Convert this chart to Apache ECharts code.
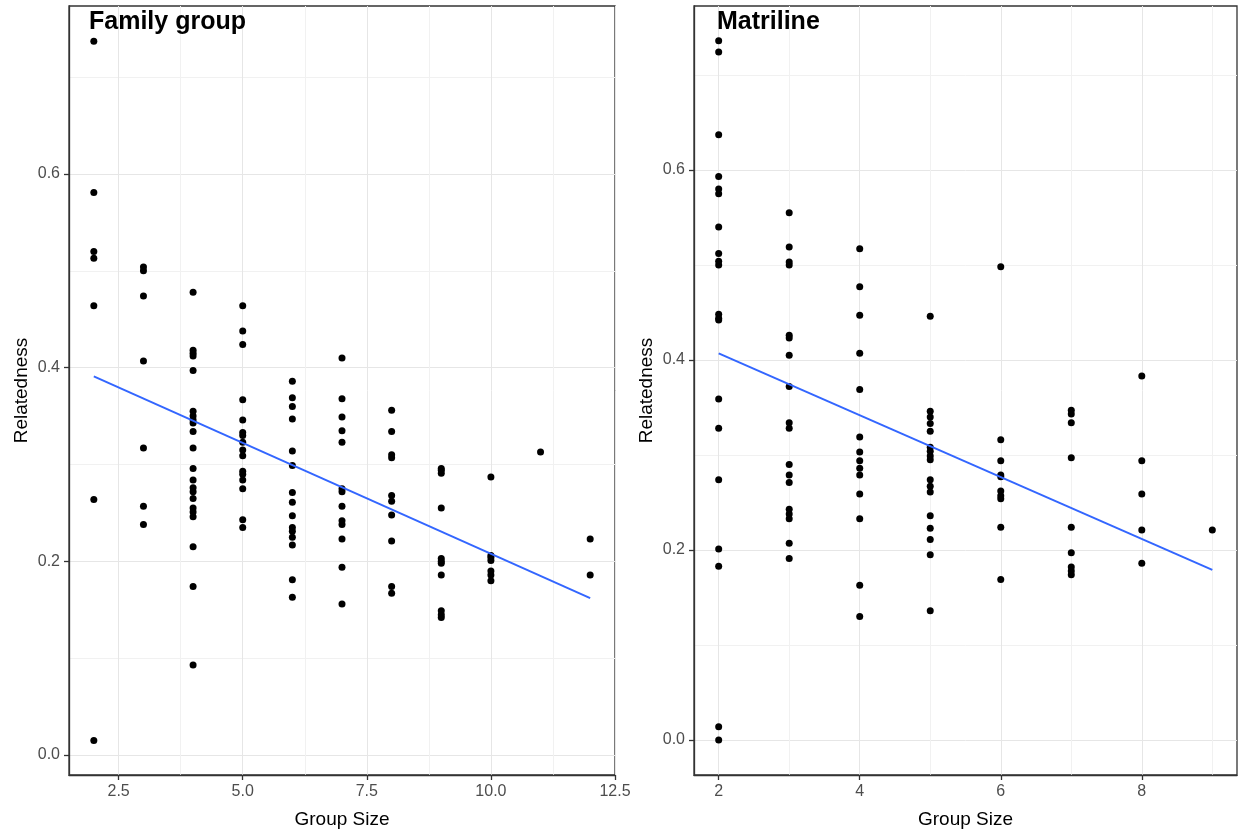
<!DOCTYPE html>
<html>
<head>
<meta charset="utf-8">
<script src="https://cdn.jsdelivr.net/npm/echarts@6/dist/echarts.min.js"></script>
<style>
html,body{margin:0;padding:0;background:#fff;}
#chart{width:1238px;height:834px;}
</style>
</head>
<body>
<div id="chart"></div>
<script>
// ---- Family group panel data (Group Size -> Relatedness values) ----
const famSizes = [2, 3, 4, 5, 6, 7, 8, 9, 10, 11, 12];
const fam2 = [0.737, 0.581, 0.520, 0.513, 0.464, 0.264, 0.015];
const fam3 = [0.504, 0.500, 0.474, 0.407, 0.317, 0.257, 0.238];
const fam4 = [0.478, 0.418, 0.415, 0.412, 0.397, 0.355, 0.350, 0.346, 0.343, 0.334, 0.317, 0.296, 0.284, 0.276, 0.272, 0.265, 0.255, 0.251, 0.246, 0.215, 0.174, 0.093];
const fam5 = [0.464, 0.438, 0.424, 0.367, 0.346, 0.333, 0.330, 0.323, 0.315, 0.309, 0.293, 0.290, 0.284, 0.275, 0.243, 0.235];
const fam6 = [0.386, 0.369, 0.360, 0.347, 0.314, 0.299, 0.271, 0.261, 0.247, 0.235, 0.231, 0.225, 0.217, 0.181, 0.163];
const fam7 = [0.410, 0.368, 0.349, 0.335, 0.323, 0.275, 0.272, 0.257, 0.242, 0.238, 0.223, 0.194, 0.156];
const fam8 = [0.356, 0.334, 0.310, 0.307, 0.268, 0.262, 0.248, 0.221, 0.174, 0.167];
const fam9 = [0.296, 0.294, 0.291, 0.255, 0.203, 0.200, 0.198, 0.186, 0.149, 0.145, 0.142];
const fam10 = [0.287, 0.206, 0.204, 0.201, 0.190, 0.186, 0.180];
const fam11 = [0.313];
const fam12 = [0.223, 0.186];
const famFitX = [2, 12];
const famFitY = [0.391, 0.162];

// ---- Matriline panel data ----
const matSizes = [2, 3, 4, 5, 6, 7, 8, 9];
const mat2 = [0.736, 0.724, 0.637, 0.593, 0.580, 0.575, 0.540, 0.512, 0.504, 0.500, 0.448, 0.444, 0.442, 0.359, 0.328, 0.274, 0.201, 0.183, 0.014, 0.000];
const mat3 = [0.555, 0.519, 0.503, 0.500, 0.426, 0.423, 0.405, 0.372, 0.334, 0.328, 0.290, 0.279, 0.271, 0.243, 0.238, 0.233, 0.207, 0.191];
const mat4 = [0.517, 0.477, 0.447, 0.407, 0.369, 0.319, 0.303, 0.294, 0.286, 0.279, 0.259, 0.233, 0.163, 0.130];
const mat5 = [0.446, 0.346, 0.340, 0.333, 0.325, 0.308, 0.304, 0.299, 0.295, 0.274, 0.267, 0.261, 0.236, 0.223, 0.211, 0.195, 0.136];
const mat6 = [0.498, 0.316, 0.294, 0.279, 0.277, 0.262, 0.257, 0.254, 0.224, 0.169];
const mat7 = [0.347, 0.343, 0.334, 0.297, 0.224, 0.197, 0.182, 0.178, 0.174];
const mat8 = [0.383, 0.294, 0.259, 0.221, 0.186];
const mat9 = [0.221];
const matFitX = [2, 9];
const matFitY = [0.407, 0.179];

// ---- Tick labels / grid positions ----
const famXTicks = [2.5, 5, 7.5, 10, 12.5];
const famXMinor = [3.75, 6.25, 8.75, 11.25];
const matXTicks = [2, 4, 6, 8];
const matXMinor = [3, 5, 7, 9];
const yTicks = [0, 0.2, 0.4, 0.6];
const yMinor = [0.1, 0.3, 0.5, 0.7];
const titles = ['Family group', 'Matriline'];
const xTitle = 'Group Size';
const yTitle = 'Relatedness';

function pairs(sizes, groups) {
  const out = [];
  sizes.forEach((s, i) => groups[i].forEach(v => out.push([s, v])));
  return out;
}
const famPoints = pairs(famSizes, [fam2, fam3, fam4, fam5, fam6, fam7, fam8, fam9, fam10, fam11, fam12]);
const matPoints = pairs(matSizes, [mat2, mat3, mat4, mat5, mat6, mat7, mat8, mat9]);
const famFit = famFitX.map((x, i) => [x, famFitY[i]]);
const matFit = matFitX.map((x, i) => [x, matFitY[i]]);

const FONT = '"Liberation Sans", Arial, Helvetica, sans-serif';
const TICKCOL = '#4d4d4d';
const BORDER = '#333333';
const MAJOR = '#e6e6e6';
const MINOR = '#f1f1f1';

function mainX(grid, min, max, ticks, fmt) {
  return {
    gridIndex: grid, type: 'value', min: min, max: max, position: 'bottom',
    name: xTitle, nameLocation: 'middle', nameGap: 35,
    nameTextStyle: { fontFamily: FONT, fontSize: 19, color: '#000' },
    axisLine: { show: true, onZero: false, lineStyle: { color: BORDER, width: 1.3 } },
    axisTick: { show: true, length: 5, customValues: ticks, lineStyle: { color: BORDER, width: 1.3 } },
    axisLabel: { customValues: ticks, formatter: fmt, color: TICKCOL, fontSize: 16, fontFamily: FONT, margin: 9, hideOverlap: false },
    splitLine: { show: true, lineStyle: { color: MAJOR, width: 1 } }
  };
}
function minorX(grid, min, max, ticks) {
  return {
    gridIndex: grid, type: 'value', min: min, max: max, position: 'top',
    axisLine: { show: false, onZero: false }, axisLabel: { show: false },
    axisTick: { show: false, customValues: ticks },
    splitLine: { show: true, lineStyle: { color: MINOR, width: 1 } }
  };
}
function mainY(grid, min, max) {
  return {
    gridIndex: grid, type: 'value', min: min, max: max, position: 'left',
    name: yTitle, nameLocation: 'middle', nameGap: 38, nameRotate: 90,
    nameTextStyle: { fontFamily: FONT, fontSize: 19, color: '#000' },
    axisLine: { show: true, onZero: false, lineStyle: { color: BORDER, width: 1.3 } },
    axisTick: { show: true, length: 5, customValues: yTicks, lineStyle: { color: BORDER, width: 1.3 } },
    axisLabel: { customValues: yTicks, formatter: v => v.toFixed(1), color: TICKCOL, fontSize: 16, fontFamily: FONT, margin: 9 },
    splitLine: { show: true, lineStyle: { color: MAJOR, width: 1 } }
  };
}
function minorY(grid, min, max) {
  return {
    gridIndex: grid, type: 'value', min: min, max: max, position: 'right',
    axisLine: { show: false, onZero: false }, axisLabel: { show: false },
    axisTick: { show: false, customValues: yMinor },
    splitLine: { show: true, lineStyle: { color: MINOR, width: 1 } }
  };
}

const chart = echarts.init(document.getElementById('chart'), null, { renderer: 'canvas' });
chart.setOption({
  animation: false,
  backgroundColor: '#ffffff',
  title: [
    { text: titles[0], left: 84, top: 5, textStyle: { fontFamily: FONT, fontWeight: 'bold', fontSize: 25, color: '#000' } },
    { text: titles[1], left: 712, top: 5, textStyle: { fontFamily: FONT, fontWeight: 'bold', fontSize: 25, color: '#000' } }
  ],
  grid: [
    { left: 69, top: 6, width: 546, height: 770, show: true, borderColor: BORDER, borderWidth: 1.3, backgroundColor: 'transparent' },
    { left: 694, top: 6, width: 543, height: 770, show: true, borderColor: BORDER, borderWidth: 1.3, backgroundColor: 'transparent' }
  ],
  xAxis: [
    mainX(0, 1.5, 12.5, famXTicks, v => v.toFixed(1)),
    minorX(0, 1.5, 12.5, famXMinor),
    mainX(1, 1.65, 9.35, matXTicks, v => String(v)),
    minorX(1, 1.65, 9.35, matXMinor)
  ],
  yAxis: [
    mainY(0, -0.0206, 0.7735),
    minorY(0, -0.0206, 0.7735),
    mainY(1, -0.0368, 0.7725),
    minorY(1, -0.0368, 0.7725)
  ],
  series: [
    { type: 'scatter', xAxisIndex: 0, yAxisIndex: 0, data: famPoints, symbolSize: 7, itemStyle: { color: '#000', opacity: 1 }, z: 3 },
    { type: 'line', xAxisIndex: 0, yAxisIndex: 0, data: famFit, showSymbol: false, symbol: 'none', lineStyle: { color: '#3366FF', width: 2 }, z: 4 },
    { type: 'scatter', xAxisIndex: 2, yAxisIndex: 2, data: matPoints, symbolSize: 7, itemStyle: { color: '#000', opacity: 1 }, z: 3 },
    { type: 'line', xAxisIndex: 2, yAxisIndex: 2, data: matFit, showSymbol: false, symbol: 'none', lineStyle: { color: '#3366FF', width: 2 }, z: 4 }
  ]
});
</script>
</body>
</html>
